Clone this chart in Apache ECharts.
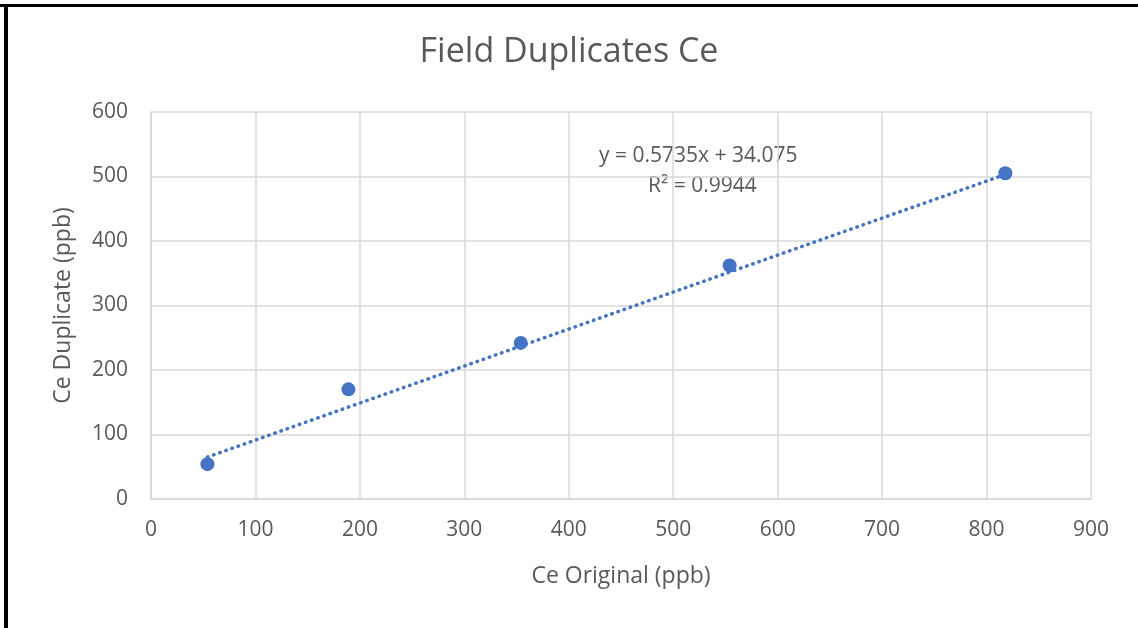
<!DOCTYPE html>
<html>
<head>
<meta charset="utf-8">
<script src="https://cdn.jsdelivr.net/npm/echarts@6/dist/echarts.min.js"></script>
<style>
html,body{margin:0;padding:0;background:#fff;}
#chart{width:1138px;height:628px;}
</style>
</head>
<body>
<div id="chart"></div>
<script>
const titleText = "Field Duplicates Ce";
const xAxisName = "Ce Original (ppb)";
const yAxisName = "Ce Duplicate (ppb)";
const originalValues = [54, 189, 354, 554, 818];
const duplicateValues = [54, 170, 242, 362, 505];
const trendSlope = 0.5735;
const trendIntercept = 34.075;
const equationText = "y = 0.5735x + 34.075";
const r2Text = "R² = 0.9944";

const points = originalValues.map((x, i) => [x, duplicateValues[i]]);
const xMin = Math.min(...originalValues), xMax = Math.max(...originalValues);
const trend = [[xMin, trendSlope * xMin + trendIntercept], [xMax, trendSlope * xMax + trendIntercept]];

const FONT = "'Open Sans', sans-serif";
const chart = echarts.init(document.getElementById('chart'));
chart.setOption({
  animation: false,
  textStyle: {fontFamily: FONT},
  title: {
    text: titleText, left: 'center', top: 30,
    textStyle: {fontFamily: FONT, fontSize: 34, fontWeight: 'normal', color: '#595959'}
  },
  grid: {left: 151, right: 47, top: 112, bottom: 129},
  xAxis: {
    type: 'value', min: 0, max: 900, interval: 100,
    name: xAxisName, nameLocation: 'middle', nameGap: 66,
    nameTextStyle: {fontFamily: FONT, fontSize: 23, color: '#595959'},
    axisLine: {show: true, lineStyle: {color: '#d9d9d9', width: 1.5}},
    axisTick: {show: false},
    axisLabel: {fontFamily: FONT, fontSize: 21, color: '#595959', margin: 21},
    splitLine: {show: true, lineStyle: {color: '#d9d9d9', width: 1.5}}
  },
  yAxis: {
    type: 'value', min: 0, max: 600, interval: 100,
    name: yAxisName, nameLocation: 'middle', nameGap: 76,
    nameTextStyle: {fontFamily: FONT, fontSize: 23, color: '#595959'},
    axisLine: {show: true, lineStyle: {color: '#d9d9d9', width: 1.5}},
    axisTick: {show: false},
    axisLabel: {fontFamily: FONT, fontSize: 21, color: '#595959', margin: 23},
    splitLine: {show: true, lineStyle: {color: '#d9d9d9', width: 1.5}}
  },
  series: [
    {
      type: 'line', data: trend, symbol: 'none', silent: true,
      lineStyle: {color: '#4472C4', width: 3.5, type: [0.5, 6], cap: 'round'},
      z: 2
    },
    {
      type: 'scatter', data: points, symbolSize: 14,
      itemStyle: {color: '#4472C4', opacity: 1}, z: 3
    }
  ],
  graphic: [
    {type: 'rect', shape: {x: 0, y: 4, width: 1138, height: 3}, style: {fill: '#000'}},
    {type: 'rect', shape: {x: 4, y: 4, width: 4, height: 624}, style: {fill: '#000'}},
    {type: 'text', left: 599, top: 146, style: {text: equationText, font: "21px 'Open Sans', sans-serif", fill: '#595959'}},
    {type: 'text', left: 648, top: 176, style: {text: r2Text, font: "21px 'Open Sans', sans-serif", fill: '#595959'}}
  ]
});
</script>
</body>
</html>
